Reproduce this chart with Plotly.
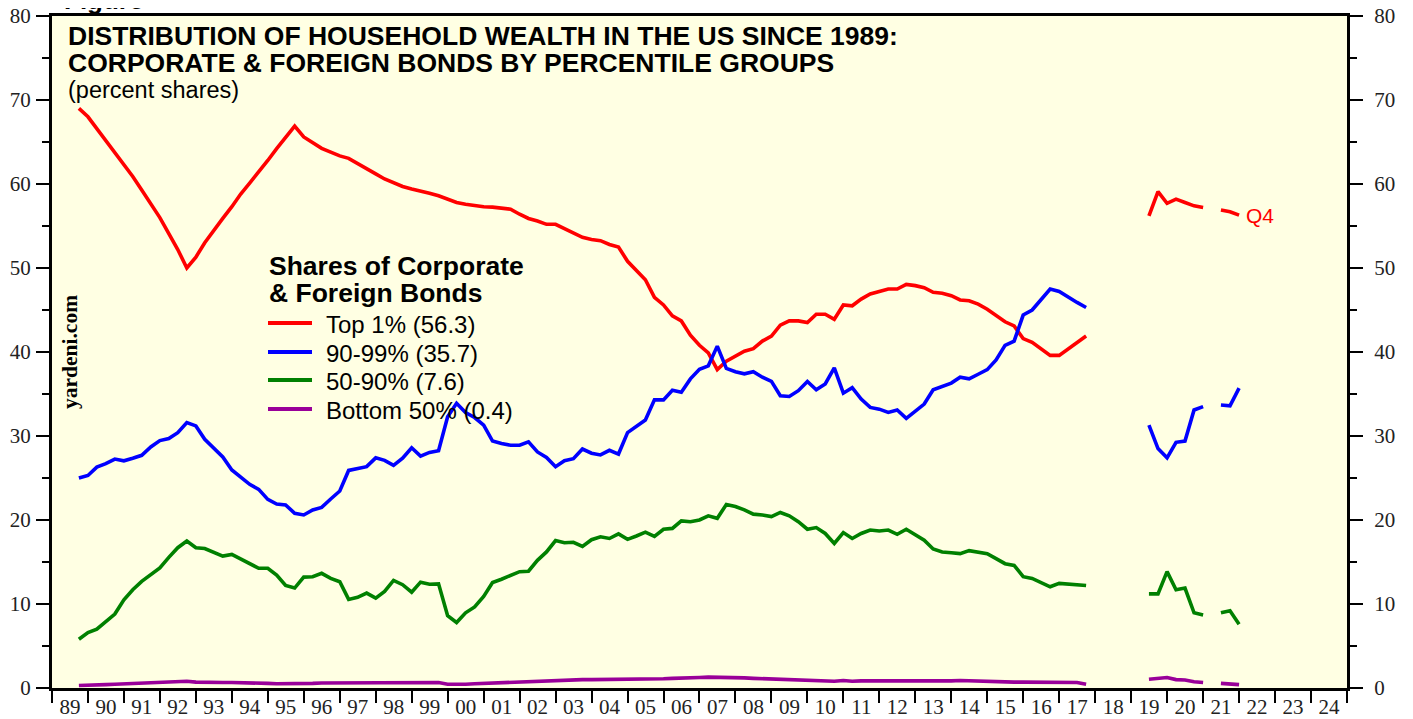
import pandas as pd
import plotly.graph_objects as go

# Quarterly observations, first point = 1989 Q4 position, last = 2022 Q1 position
# rows: one calendar year each (4 quarters); None = no data
top1 = [
    69.0,
    68.0, 66.6, 65.2, 63.8,    # 1990
    62.4, 60.9, 59.3, 57.7,    # 1991
    56.0, 54.1, 52.2, 50.0,    # 1992
    51.3, 53.0, 54.5, 55.9,    # 1993
    57.3, 58.8, 60.1, 61.4,    # 1994
    62.8, 64.2, 65.6, 66.9,    # 1995
    65.6, 64.9, 64.25, 63.8,   # 1996
    63.35, 63.05, 62.4, 61.75, # 1997
    61.2, 60.6, 60.1, 59.7,    # 1998
    59.4, 59.2, 58.9, 58.6,    # 1999
    58.2, 57.8, 57.6, 57.4,    # 2000
    57.3, 57.25, 57.1, 57.0,   # 2001
    56.4, 55.9, 55.6, 55.2,    # 2002
    55.2, 54.7, 54.1, 53.65,   # 2003
    53.4, 53.25, 52.8, 52.5,   # 2004
    50.8, 49.7, 48.6, 46.5,    # 2005
    45.6, 44.3, 43.7, 42.0,    # 2006
    40.8, 39.9, 37.9, 38.9,    # 2007
    39.5, 40.1, 40.4, 41.3,    # 2008
    41.9, 43.2, 43.7, 43.7,    # 2009
    43.5, 44.5, 44.5, 43.9,    # 2010
    45.6, 45.5, 46.3, 46.9,    # 2011
    47.2, 47.5, 47.5, 48.05,   # 2012
    47.9, 47.65, 47.1, 47.0,   # 2013
    46.7, 46.2, 46.1, 45.7,    # 2014
    45.1, 44.4, 43.6, 43.1,    # 2015
    41.6, 41.15, 40.4, 39.6,   # 2016
    39.6, 40.35, 41.15, 41.9,  # 2017
    None, None, None, None,    # 2018
    None, None, 56.2, 59.1,    # 2019
    57.7, 58.2, 57.8, 57.4,    # 2020
    57.2, None, 56.9, 56.7,    # 2021
    56.3,
]

p90_99 = [
    25.0,
    25.3, 26.3, 26.7, 27.25,   # 1990
    27.05, 27.35, 27.7, 28.7,  # 1991
    29.45, 29.7, 30.4, 31.6,   # 1992
    31.2, 29.6, 28.6, 27.5,    # 1993
    25.95, 25.1, 24.25, 23.65, # 1994
    22.45, 21.9, 21.8, 20.8,   # 1995
    20.6, 21.2, 21.5, 22.5,    # 1996
    23.45, 25.9, 26.15, 26.35, # 1997
    27.4, 27.1, 26.5, 27.35,   # 1998
    28.6, 27.6, 28.05, 28.25,  # 1999
    32.3, 33.9, 32.8, 32.2,    # 2000
    31.3, 29.4, 29.1, 28.9,    # 2001
    28.9, 29.3, 28.1, 27.45,   # 2002
    26.35, 27.05, 27.3, 28.45, # 2003
    27.95, 27.75, 28.3, 27.85, # 2004
    30.4, 31.1, 31.9, 34.3,    # 2005
    34.3, 35.45, 35.2, 36.8,   # 2006
    37.95, 38.35, 40.7, 38.05, # 2007
    37.65, 37.4, 37.65, 37.0,  # 2008
    36.5, 34.8, 34.7, 35.4,    # 2009
    36.5, 35.5, 36.2, 38.1,    # 2010
    35.1, 35.75, 34.4, 33.4,   # 2011
    33.2, 32.8, 33.1, 32.1,    # 2012
    33.0, 33.8, 35.5, 35.9,    # 2013
    36.3, 37.0, 36.8, 37.35,   # 2014
    37.9, 39.05, 40.8, 41.3,   # 2015
    44.4, 45.0, 46.3, 47.5,    # 2016
    47.2, 46.5, 45.9, 45.3,    # 2017
    None, None, None, None,    # 2018
    None, None, 31.3, 28.5,    # 2019
    27.4, 29.25, 29.4, 33.1,   # 2020
    33.5, None, 33.7, 33.6,    # 2021
    35.7,
]

p50_90 = [
    5.8,
    6.6, 7.0, 7.9, 8.8,        # 1990
    10.5, 11.7, 12.7, 13.45,   # 1991
    14.3, 15.55, 16.7, 17.5,   # 1992
    16.7, 16.6, 16.15, 15.7,   # 1993
    15.9, 15.35, 14.9, 14.25,  # 1994
    14.25, 13.45, 12.2, 11.9,  # 1995
    13.2, 13.25, 13.65, 13.05, # 1996
    12.65, 10.55, 10.8, 11.3,  # 1997
    10.7, 11.5, 12.8, 12.3,    # 1998
    11.4, 12.6, 12.35, 12.4,   # 1999
    8.6, 7.8, 8.95, 9.65,      # 2000
    10.9, 12.55, 12.95, 13.4,  # 2001
    13.85, 13.9, 15.2, 16.2,   # 2002
    17.55, 17.3, 17.35, 16.85, # 2003
    17.65, 18.0, 17.8, 18.35,  # 2004
    17.7, 18.1, 18.55, 18.05,  # 2005
    18.9, 19.0, 19.9, 19.8,    # 2006
    20.0, 20.5, 20.2, 21.85,   # 2007
    21.6, 21.2, 20.7, 20.6,    # 2008
    20.4, 20.9, 20.5, 19.8,    # 2009
    18.9, 19.1, 18.4, 17.2,    # 2010
    18.5, 17.8, 18.4, 18.8,    # 2011
    18.7, 18.8, 18.3, 18.9,    # 2012
    18.2, 17.6, 16.55, 16.2,   # 2013
    16.1, 16.0, 16.35, 16.2,   # 2014
    16.0, 15.4, 14.8, 14.6,    # 2015
    13.25, 13.05, 12.55, 12.05,# 2016
    12.45, 12.35, 12.2, 12.2,  # 2017
    None, None, None, None,    # 2018
    None, None, 11.2, 11.2,    # 2019
    13.85, 11.7, 11.9, 8.95,   # 2020
    8.7, None, 8.95, 9.2,      # 2021
    7.6,
]

bottom50 = [
    0.3,
    0.3, 0.35, 0.4, 0.45,      # 1990
    0.5, 0.55, 0.6, 0.6,       # 1991
    0.65, 0.7, 0.75, 0.8,      # 1992
    0.7, 0.65, 0.65, 0.65,     # 1993
    0.65, 0.65, 0.6, 0.6,      # 1994
    0.55, 0.5, 0.5, 0.45,      # 1995
    0.55, 0.55, 0.6, 0.6,      # 1996
    0.55, 0.55, 0.6, 0.6,      # 1997
    0.6, 0.65, 0.65, 0.65,     # 1998
    0.65, 0.65, 0.65, 0.65,    # 1999
    0.45, 0.4, 0.45, 0.5,      # 2000
    0.55, 0.6, 0.65, 0.65,     # 2001
    0.7, 0.75, 0.8, 0.85,      # 2002
    0.9, 0.95, 0.95, 1.0,      # 2003
    1.0, 1.0, 1.05, 1.05,      # 2004
    1.05, 1.1, 1.1, 1.1,       # 2005
    1.1, 1.15, 1.15, 1.2,      # 2006
    1.25, 1.3, 1.3, 1.3,       # 2007
    1.25, 1.2, 1.15, 1.1,      # 2008
    1.1, 1.1, 1.05, 1.0,       # 2009
    0.9, 0.9, 0.85, 0.8,       # 2010
    0.9, 0.8, 0.85, 0.85,      # 2011
    0.85, 0.85, 0.85, 0.85,    # 2012
    0.85, 0.8, 0.75, 0.8,      # 2013
    0.85, 0.9, 0.85, 0.8,      # 2014
    0.8, 0.75, 0.75, 0.7,      # 2015
    0.7, 0.7, 0.7, 0.7,        # 2016
    0.7, 0.7, 0.65, 0.45,      # 2017
    None, None, None, None,    # 2018
    None, None, 1.05, 1.1,     # 2019
    1.25, 1.0, 0.95, 0.75,     # 2020
    0.65, None, 0.55, 0.5,     # 2021
    0.4,
]

dates = pd.date_range(start="1989-10-01", periods=len(top1), freq="QS")

series_names = ["Top 1% (56.3)", "90-99% (35.7)", "50-90% (7.6)", "Bottom 50% (0.4)"]
series_values = [top1, p90_99, p50_90, bottom50]
series_colors = ["#FF0000", "#0000FF", "#008000", "#990099"]

fig = go.Figure()
for name, vals, col in zip(series_names, series_values, series_colors):
    fig.add_trace(go.Scatter(x=dates, y=vals, mode="lines", name=name,
                             line=dict(color=col, width=3.6), connectgaps=False,
                             showlegend=False))
# invisible companion trace so the mirrored right-hand axis is drawn
fig.add_trace(go.Scatter(x=dates, y=top1, mode="none", yaxis="y2", showlegend=False,
                         hoverinfo="skip"))

# page geometry (the page body adds an 8px offset to the figure)
OFF = 8
L, R, T, B = 52, 1347, 16, 688          # plot area in page pixels
FIG_W, FIG_H = 1413 - OFF, 719 - OFF
def px(x):
    return (x - L) / (R - L)
def py(y):
    return (B - y) / (B - T)

SANS = "Liberation Sans, Arial, sans-serif"
SERIF = "Liberation Serif, Times New Roman, serif"

ann = []
ann.append(dict(x=px(62), y=py(0), xref="paper", yref="paper", xanchor="left", yanchor="middle",
                text="<b>Figure</b>", showarrow=False, font=dict(family=SANS, size=26, color="black")))
ann.append(dict(x=px(66), y=py(36), xref="paper", yref="paper", xanchor="left", yanchor="middle",
                text="<b>DISTRIBUTION OF HOUSEHOLD WEALTH IN THE US SINCE 1989:</b>", showarrow=False,
                font=dict(family=SANS, size=26.5, color="black")))
ann.append(dict(x=px(66), y=py(63), xref="paper", yref="paper", xanchor="left", yanchor="middle",
                text="<b>CORPORATE &amp; FOREIGN BONDS BY PERCENTILE GROUPS</b>", showarrow=False,
                font=dict(family=SANS, size=26.5, color="black")))
ann.append(dict(x=px(66), y=py(90), xref="paper", yref="paper", xanchor="left", yanchor="middle",
                text="(percent shares)", showarrow=False,
                font=dict(family=SANS, size=23.5, color="black")))
# legend block
ann.append(dict(x=px(267), y=py(266), xref="paper", yref="paper", xanchor="left", yanchor="middle",
                text="<b>Shares of Corporate</b>", showarrow=False,
                font=dict(family=SANS, size=26.5, color="black")))
ann.append(dict(x=px(267), y=py(293), xref="paper", yref="paper", xanchor="left", yanchor="middle",
                text="<b>&amp; Foreign Bonds</b>", showarrow=False,
                font=dict(family=SANS, size=26.5, color="black")))
shapes = []
leg_y = [323, 352, 380, 409]
for name, col, yy in zip(series_names, series_colors, leg_y):
    shapes.append(dict(type="line", xref="paper", yref="paper", x0=px(268), x1=px(312),
                       y0=py(yy), y1=py(yy), line=dict(color=col, width=4)))
    ann.append(dict(x=px(324), y=py(yy + 1), xref="paper", yref="paper", xanchor="left", yanchor="middle",
                    text=name, showarrow=False, font=dict(family=SANS, size=24, color="black")))
# watermark
ann.append(dict(x=px(70), y=py(352), xref="paper", yref="paper", xanchor="center", yanchor="middle",
                text="<b>yardeni.com</b>", textangle=-90, showarrow=False,
                font=dict(family=SERIF, size=21.5, color="black")))
# Q4 label
ann.append(dict(x=dates[-1], y=top1[-1], xref="x", yref="y", xanchor="left", yanchor="middle",
                xshift=5, text="Q4", showarrow=False, font=dict(family=SANS, size=21, color="#FF0000")))

yaxis_common = dict(range=[0, 80], autorange=False, dtick=10, tick0=0, ticks="outside", ticklen=13,
                    tickwidth=2, tickcolor="black", showline=True, linewidth=3, linecolor="black",
                    showgrid=False, zeroline=False, automargin=False, ticklabeloverflow="allow",
                    tickfont=dict(family=SERIF, size=21, color="#222"),
                    minor=dict(dtick=5, ticks="outside", ticklen=7, tickwidth=2, tickcolor="black"))

fig.update_layout(
    width=FIG_W, height=FIG_H,
    margin=dict(l=L - OFF, r=FIG_W - (R - OFF), t=T - OFF, b=FIG_H - (B - OFF), pad=0),
    paper_bgcolor="white",
    plot_bgcolor="#FFFFE3",
    showlegend=False,
    xaxis=dict(type="date", range=["1989-01-01", "2025-01-01"], dtick="M12", tick0="1989-01-01",
               tickformat="%y", ticklabelmode="period", ticks="outside", ticklen=12, tickwidth=2,
               tickcolor="black", showline=True, linewidth=3, linecolor="black", mirror=True,
               showgrid=False, zeroline=False, automargin=False, ticklabelstandoff=-14,
               ticklabeloverflow="allow",
               tickfont=dict(family=SERIF, size=21, color="#222")),
    yaxis=dict(ticklabelstandoff=1, **yaxis_common),
    yaxis2=dict(overlaying="y", side="right", ticklabelstandoff=7, **yaxis_common),
    annotations=ann,
    shapes=shapes,
)

fig.write_html("out.html")
